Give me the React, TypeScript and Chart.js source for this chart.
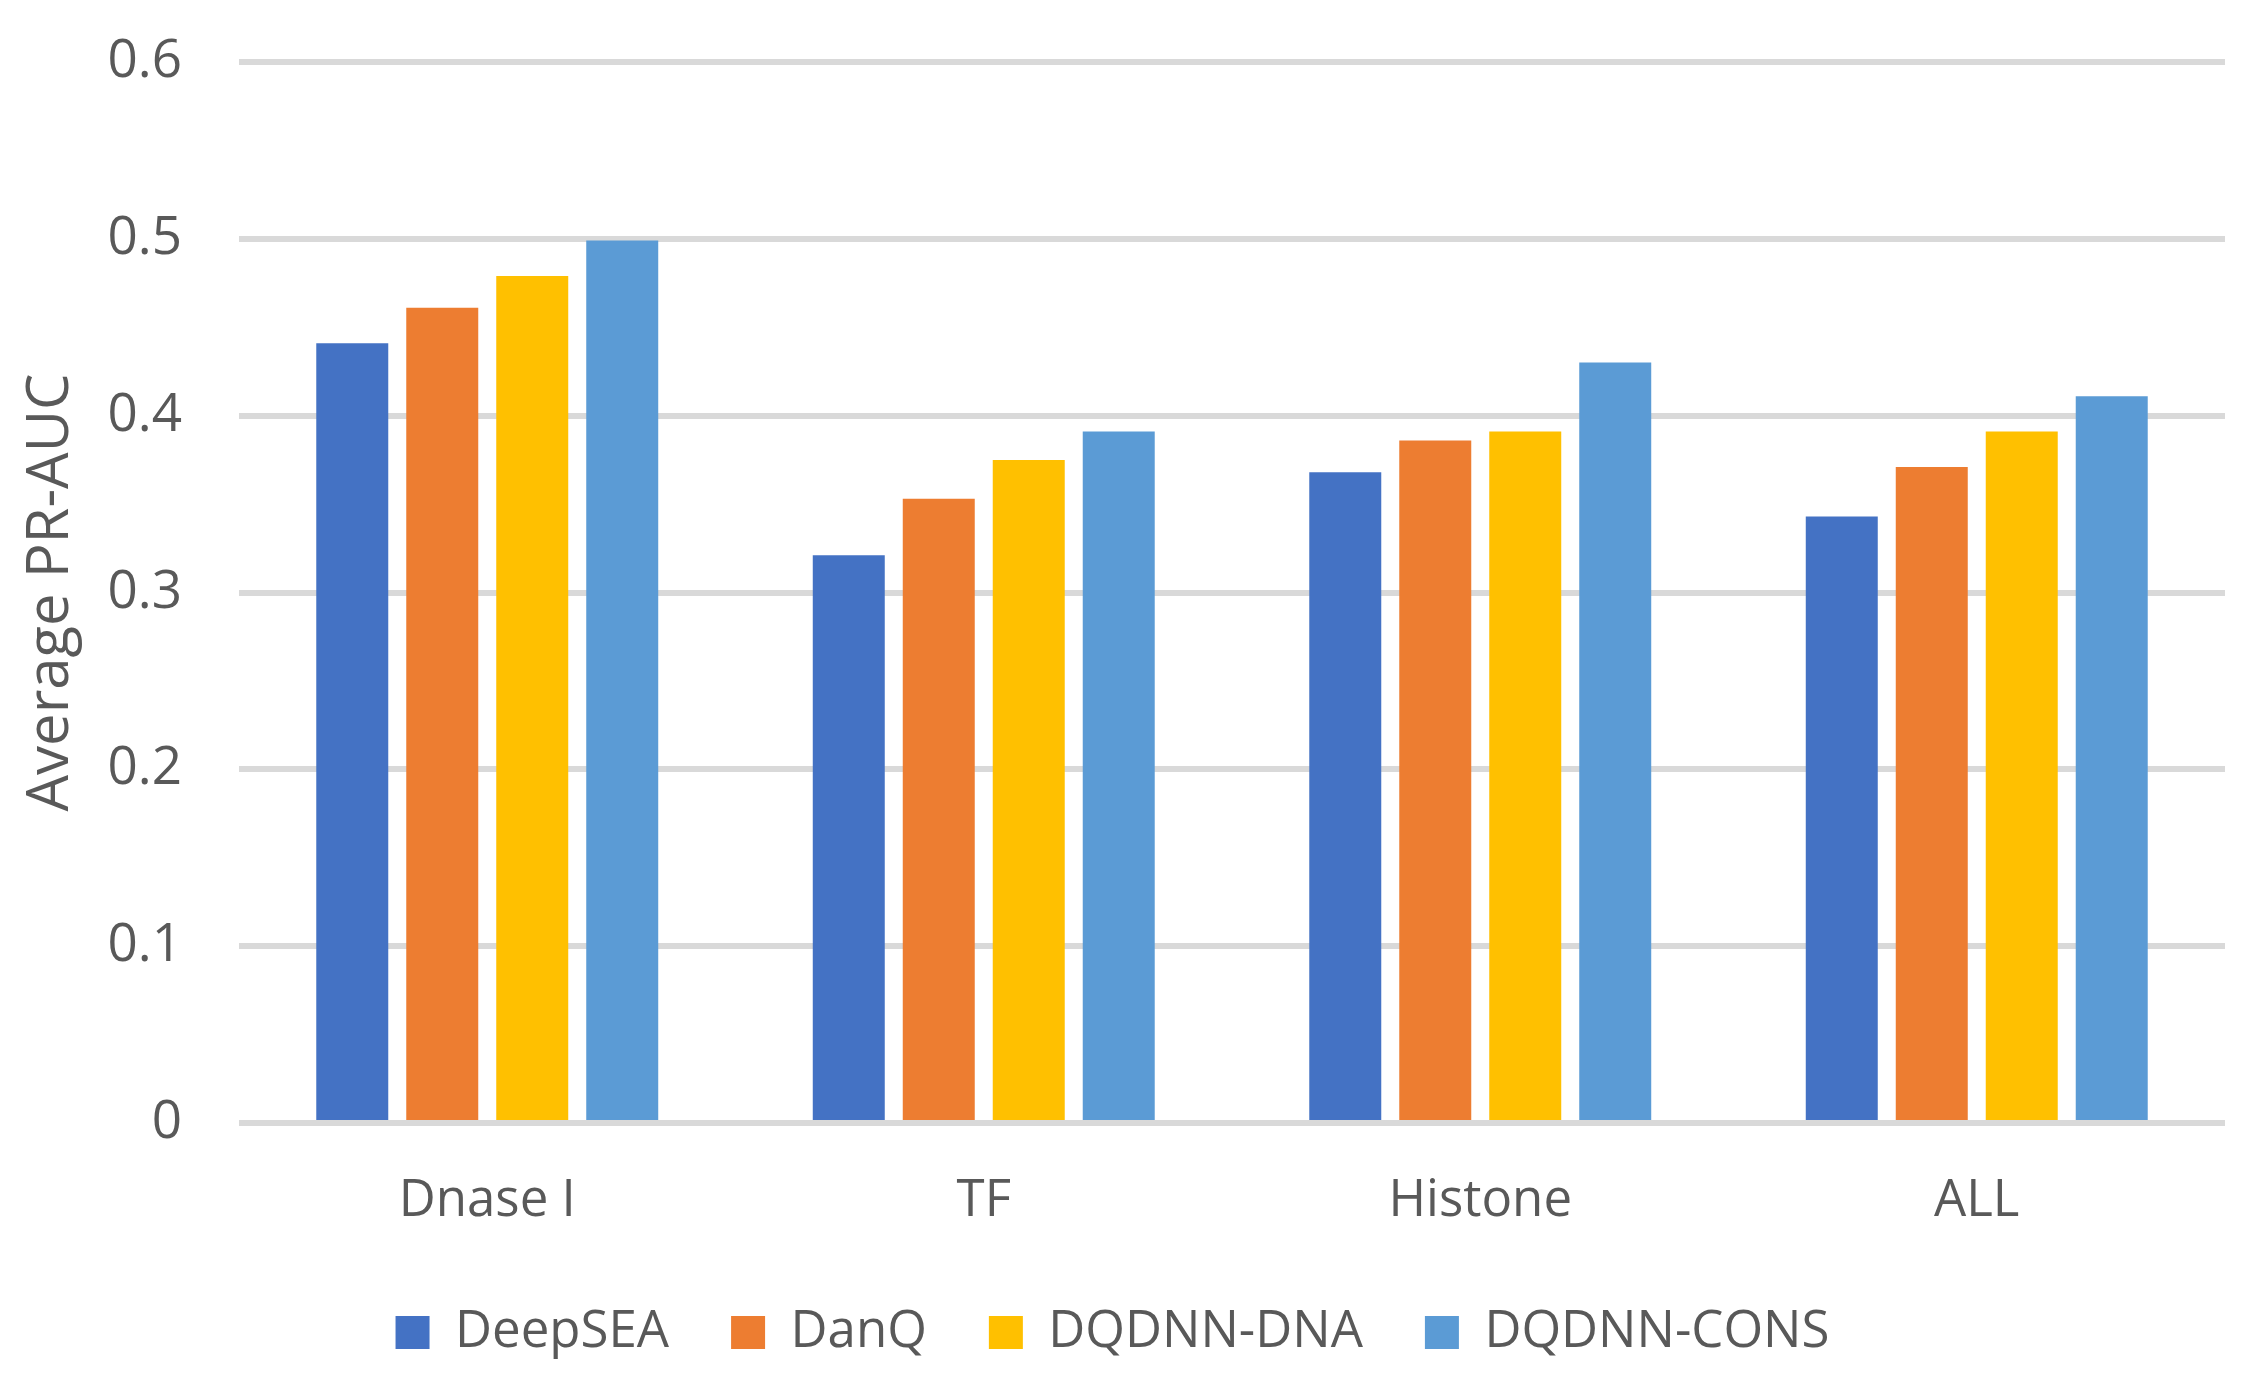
import React, { useEffect, useRef } from "react";
import { Chart, registerables } from "chart.js";

Chart.register(...registerables);

const categories = ["Dnase I", "TF", "Histone", "ALL"];
const seriesNames = ["DeepSEA", "DanQ", "DQDNN-DNA", "DQDNN-CONS"];
const deepSEA = [0.441, 0.321, 0.368, 0.343];
const danQ = [0.461, 0.353, 0.386, 0.371];
const dqdnnDNA = [0.479, 0.375, 0.391, 0.391];
const dqdnnCONS = [0.499, 0.391, 0.430, 0.411];
const seriesColors = ["#4472C4", "#ED7D31", "#FFC000", "#5B9BD5"];
const yTicks = [0, 0.1, 0.2, 0.3, 0.4, 0.5, 0.6];

const FONT = "'Open Sans', 'Noto Sans', sans-serif";
const TEXT = "#595959";

export default function App() {
  const ref = useRef<HTMLCanvasElement | null>(null);

  useEffect(() => {
    if (!ref.current) return;
    const values = [deepSEA, danQ, dqdnnDNA, dqdnnCONS];
    const chart = new Chart(ref.current, {
      type: "bar",
      data: {
        labels: categories,
        datasets: seriesNames.map((name, i) => ({
          label: name,
          data: values[i],
          backgroundColor: seriesColors[i],
          borderWidth: 0,
          categoryPercentage: 0.725,
          barPercentage: 0.8,
        })),
      },
      options: {
        animation: false,
        responsive: true,
        maintainAspectRatio: false,
        devicePixelRatio: 1,
        layout: { padding: { top: 62, left: 0, right: 39, bottom: 20 } },
        plugins: {
          tooltip: { enabled: false },
          legend: {
            display: true,
            position: "bottom",
            labels: {
              boxWidth: 34,
              boxHeight: 33,
              padding: 62,
              color: TEXT,
              font: { family: FONT, size: 51 },
            },
          },
        },
        scales: {
          x: {
            grid: { display: false, drawTicks: false },
            border: { display: false },
            ticks: {
              color: TEXT,
              padding: 48,
              font: { family: FONT, size: 51 },
            },
            afterFit: (scale: any) => {
              scale.height = 122;
            },
          },
          y: {
            min: 0,
            max: 0.6,
            afterBuildTicks: (scale: any) => {
              scale.ticks = yTicks.map((v) => ({ value: v }));
            },
            grid: { color: "#D9D9D9", lineWidth: 6, drawTicks: false },
            border: { display: false },
            ticks: {
              color: TEXT,
              padding: 57,
              font: { family: FONT, size: 53 },
              callback: (v: any) => (Number(v) === 0 ? "0" : Number(v).toFixed(1)),
            },
            title: {
              display: true,
              text: "Average PR-AUC",
              color: TEXT,
              padding: { top: 17, bottom: 0 },
              font: { family: FONT, size: 58 },
            },
            afterFit: (scale: any) => {
              scale.width = 239;
              scale.paddingTop = 0;
              scale.paddingBottom = 0;
            },
          },
        },
      },
    });
    return () => chart.destroy();
  }, []);

  return (
    <div style={{ position: "absolute", left: 0, top: 0, width: 2264, height: 1388, background: "#fff" }}>
      <canvas ref={ref} />
    </div>
  );
}
